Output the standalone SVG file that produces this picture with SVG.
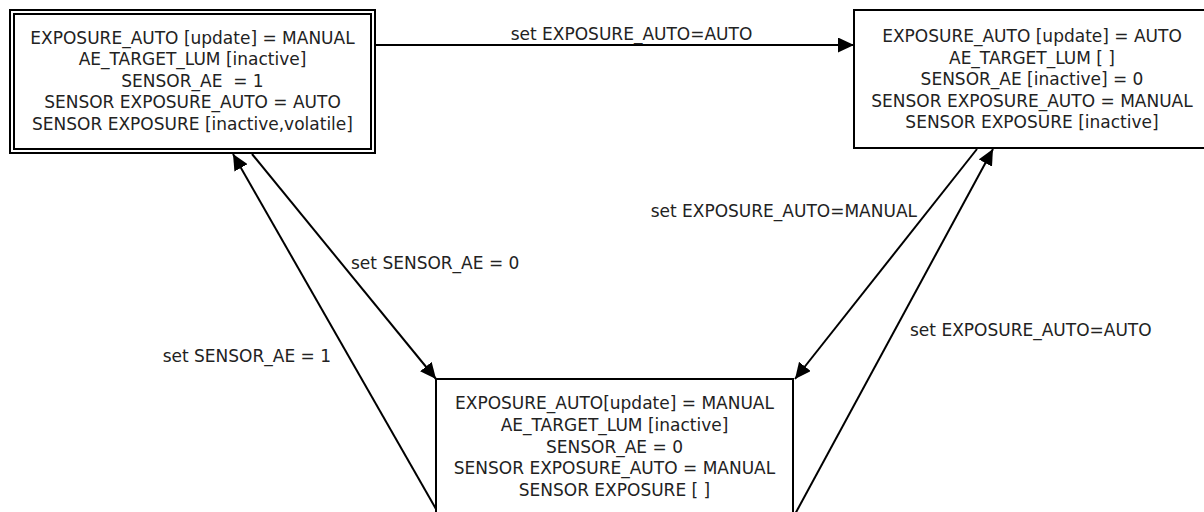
<svg xmlns="http://www.w3.org/2000/svg" width="1204" height="512" viewBox="0 0 1204 512">
<defs>
<marker id="ah" viewBox="0 0 16 15" refX="16" refY="7.5" markerWidth="16" markerHeight="15" markerUnits="userSpaceOnUse" orient="auto">
<path d="M0,0 L16,7.5 L0,15 z" fill="#000"/>
</marker>
<style>
.box{fill:#fff;stroke:#000;stroke-width:2}
.t{font-family:"DejaVu Sans",Verdana,sans-serif;font-size:17px;fill:#222;text-anchor:middle;white-space:pre}
.lbl{font-family:"DejaVu Sans",Verdana,sans-serif;font-size:17px;fill:#222}
.e{fill:none;stroke:#000;stroke-width:2;marker-end:url(#ah)}
</style>
</defs>
<rect width="1204" height="512" fill="#fff"/>
<g id="edges">
<line class="e" x1="375" y1="45" x2="854" y2="45"/>
<line class="e" x1="252" y1="154" x2="436" y2="379"/>
<line class="e" x1="440" y1="516" x2="233" y2="154"/>
<line class="e" x1="977" y1="149" x2="795" y2="379"/>
<line class="e" x1="794" y1="516" x2="993" y2="149"/>
<text class="lbl" x="631.5" y="40" text-anchor="middle">set EXPOSURE_AUTO=AUTO</text>
<text class="lbl" x="351" y="269">set SENSOR_AE = 0</text>
<text class="lbl" x="331" y="362" text-anchor="end">set SENSOR_AE = 1</text>
<text class="lbl" x="917" y="217" text-anchor="end">set EXPOSURE_AUTO=MANUAL</text>
<text class="lbl" x="910" y="336">set EXPOSURE_AUTO=AUTO</text>
</g>
<g id="node-manual-sensor-ae">
<rect class="box" x="10" y="10" width="365" height="143"/>
<rect class="box" x="14" y="14" width="357" height="135"/>
<text class="t" x="192.5" y="43.5">EXPOSURE_AUTO [update] = MANUAL</text>
<text class="t" x="192.5" y="65">AE_TARGET_LUM [inactive]</text>
<text class="t" x="192.5" y="86.5" xml:space="preserve">SENSOR_AE  = 1</text>
<text class="t" x="192.5" y="108">SENSOR EXPOSURE_AUTO = AUTO</text>
<text class="t" x="192.5" y="129.5">SENSOR EXPOSURE [inactive,volatile]</text>
</g>
<g id="node-auto">
<rect class="box" x="854" y="10" width="356" height="138"/>
<text class="t" x="1032" y="42">EXPOSURE_AUTO [update] = AUTO</text>
<text class="t" x="1032" y="63.5">AE_TARGET_LUM [ ]</text>
<text class="t" x="1032" y="85">SENSOR_AE [inactive] = 0</text>
<text class="t" x="1032" y="106.5">SENSOR EXPOSURE_AUTO = MANUAL</text>
<text class="t" x="1032" y="128">SENSOR EXPOSURE [inactive]</text>
</g>
<g id="node-manual">
<rect class="box" x="436" y="379" width="357" height="200"/>
<text class="t" x="614.5" y="409">EXPOSURE_AUTO[update] = MANUAL</text>
<text class="t" x="614.5" y="431">AE_TARGET_LUM [inactive]</text>
<text class="t" x="614.5" y="452.5">SENSOR_AE = 0</text>
<text class="t" x="614.5" y="474">SENSOR EXPOSURE_AUTO = MANUAL</text>
<text class="t" x="614.5" y="495.5">SENSOR EXPOSURE [ ]</text>
</g>
</svg>
